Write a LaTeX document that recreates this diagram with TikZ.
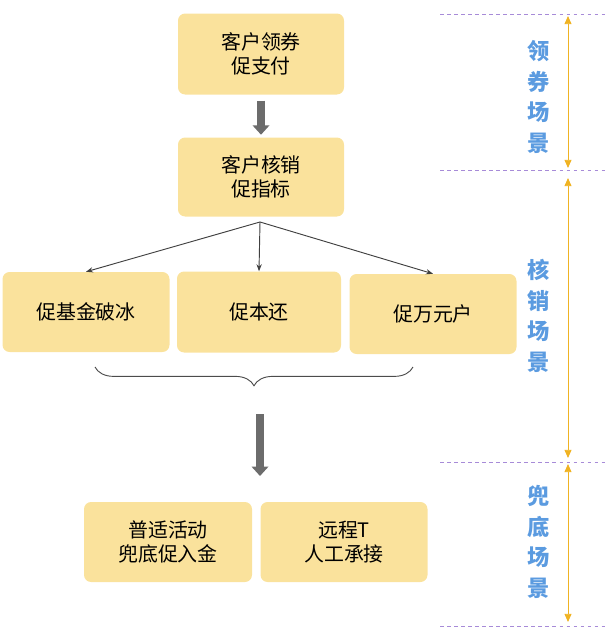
\documentclass[tikz,border=0pt]{standalone}
\usepackage{fontspec}
\setmainfont{Noto Sans CJK SC}
\usetikzlibrary{decorations.pathreplacing,arrows.meta}
\definecolor{boxfill}{HTML}{FAE29C}
\definecolor{scenefg}{HTML}{5B9BE0}
\definecolor{guide}{HTML}{A78BD8}
\definecolor{span}{HTML}{F0B323}
\tikzset{
  box/.style={fill=boxfill, rounded corners=6pt, align=center, font=\fontsize{17}{21}\selectfont},
  fat/.style={-{Triangle[length=8pt,width=14pt]}, line width=6pt, gray!85!black},
  branch/.style={-{Stealth[length=6pt]}, thick, black!75},
  scene/.style={text=scenefg, align=center, font=\fontsize{19}{26}\selectfont\bfseries},
  guideline/.style={dashed, guide, very thin},
  scenespan/.style={{Triangle[length=7pt,width=6pt]}-{Triangle[length=7pt,width=6pt]}, span, thick}
}
\begin{document}
\begin{tikzpicture}[x=0.03cm, y=-0.03cm]
  \useasboundingbox (0,0) rectangle (608,642);
  % boxes
  \node[box, minimum width=166*0.03cm, minimum height=81*0.03cm] (pay) at (261,54) {客户领券\\促支付};
  \node[box, minimum width=166*0.03cm, minimum height=79*0.03cm] (use) at (261,177) {客户核销\\促指标};
  \node[box, minimum width=167*0.03cm, minimum height=80*0.03cm] (fund) at (86,312) {促基金破冰};
  \node[box, minimum width=164*0.03cm, minimum height=81*0.03cm] (back) at (259,312) {促本还};
  \node[box, minimum width=167*0.03cm, minimum height=80*0.03cm] (rich) at (433,314) {促万元户};
  \node[box, minimum width=168*0.03cm, minimum height=80*0.03cm] (base) at (168,542) {普适活动\\兜底促入金};
  \node[box, minimum width=167*0.03cm, minimum height=80*0.03cm] (remote) at (344,542) {远程T\\人工承接};
  % arrows
  \draw[fat] (pay.south) ++(0,6) -- ++(0,34);
  \coordinate (fork) at (260,222);
  \draw[branch] (fork) -- (fund.north);
  \draw[branch] (fork) -- (back.north);
  \draw[branch] (fork) -- (rich.north);
  \draw[decorate, decoration={brace, mirror, amplitude=16pt}, thick, black!70] (95,367) -- (413,367);
  \draw[fat] (260,414) -- (260,476);
  % scene guides
  \foreach \y in {14,170,462,626}
    \draw[guideline] (440,\y) -- (605,\y);
  \draw[scenespan] (568,16) -- (568,168);
  \draw[scenespan] (568,178) -- (568,458);
  \draw[scenespan] (568,464) -- (568,622);
  \node[scene] (s1) at (539,97) {领\\券\\场\\景};
  \node[scene] (s2) at (539,316) {核\\销\\场\\景};
  \node[scene] (s3) at (539,542) {兜\\底\\场\\景};
\end{tikzpicture}
\end{document}
